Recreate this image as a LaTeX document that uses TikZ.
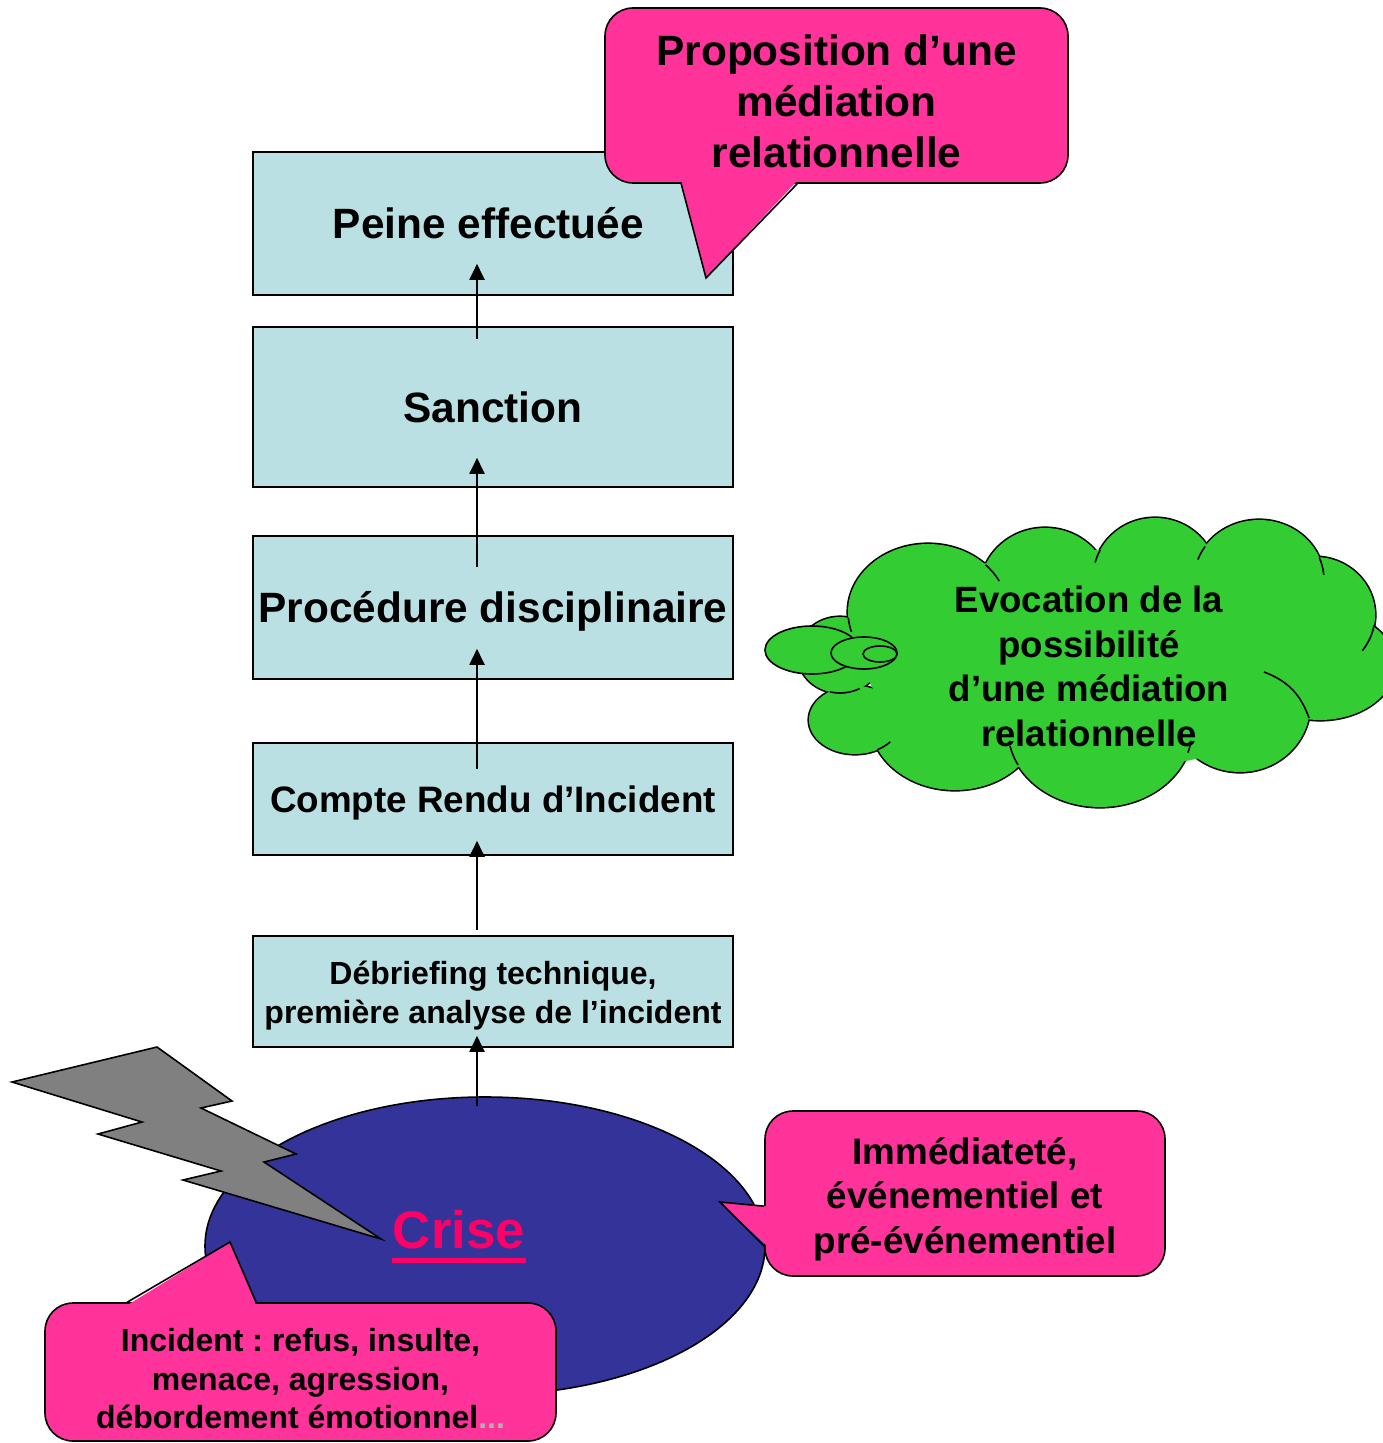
\documentclass[tikz,border=0pt]{standalone}
\usepackage{fontspec}
\setmainfont{Liberation Sans}
\usepackage{xcolor}
\usetikzlibrary{calc}
\usetikzlibrary{arrows.meta}
\usetikzlibrary{shapes.geometric}

\definecolor{boxblue}{HTML}{BBE0E3}
\definecolor{bubblepink}{HTML}{FF3399}
\definecolor{cloudgreen}{HTML}{33CC33}
\definecolor{crisisblue}{HTML}{333399}
\definecolor{boltgray}{HTML}{808080}
\definecolor{crisepink}{HTML}{FF0066}
\definecolor{dotgray}{HTML}{B0B0B0}

\newcommand\bigtxt{\bfseries\fontsize{21.2}{25.5}\selectfont}
\newcommand\midtxt{\bfseries\fontsize{18.4}{22.2}\selectfont}
\newcommand\smalltxt{\bfseries\fontsize{16}{19.3}\selectfont}
\newcommand\topgap[1]{\rule{0pt}{#1}}
\frenchspacing

\begin{document}
\begin{tikzpicture}[x=.5pt, y=-.5pt, line width=.8pt,
    stage/.style={draw, fill=boxblue, minimum width=240pt, inner sep=0pt, align=center},
    flow/.style={-{Triangle[length=8pt,width=7.5pt]}, line width=1pt},
    bubble/.style={draw, fill=bubblepink, rounded corners=14pt, inner sep=0pt, align=center},
    ]
    \useasboundingbox (0,0) rectangle (1382,1443);

    \node[stage, minimum height=71.5pt, font=\bigtxt] (peine) at (493,223.5) {Peine effectuée\hspace*{4.5pt}};
    \node[stage, minimum height=80pt, font=\bigtxt] (sanction) at (493,407) {Sanction};
    \node[stage, minimum height=71.5pt, font=\bigtxt] (proc) at (493,607.5) {\topgap{19.5pt}Procédure disciplinaire};
    \node[stage, minimum height=56pt, font=\midtxt] (compte) at (493,799) {\topgap{17.4pt}Compte Rendu d’Incident};
    \node[stage, minimum height=55.5pt, font=\smalltxt] (debrief) at (493,991.5) {\topgap{15.7pt}Débriefing technique,\\première analyse de l’incident};

    \node[ellipse, draw, fill=crisisblue, minimum width=280pt, minimum height=149pt, inner sep=0pt] (crise) at (485,1246) {};

    \draw[flow] ($(crise.north)+(-8,10)$) -- ($(debrief.south)+(-16,-12)$);
    \draw[flow] ($(debrief.north)+(-16,-5)$) -- ($(compte.south)+(-16,-15)$);
    \draw[flow] ($(compte.north)+(-16,27)$) -- ($(proc.south)+(-16,-31)$);
    \draw[flow] ($(proc.north)+(-16,32)$) -- ($(sanction.south)+(-16,-30)$);
    \draw[flow] ($(sanction.north)+(-16,13)$) -- ($(peine.south)+(-16,-32)$);

    \draw[fill=boltgray] (12,1082) -- (157,1047) -- (232,1101) -- (201,1108) -- (296,1154) -- (264,1162)
        -- (381,1239) -- (183,1180) -- (221,1171) -- (98,1134) -- (142,1122) -- cycle;
    \node[text=crisepink, inner sep=0pt, font=\bfseries\fontsize{26.4}{30}\selectfont] (crisetxt) at (459,1230) {Crise};
    \draw[crisepink, line width=2.5pt] ($(crisetxt.base west)+(0,12)$) -- ($(crisetxt.base east)+(0,12)$);

    \node[bubble, minimum width=231.5pt, minimum height=87.5pt, font=\bigtxt] (propo) at (836.5,95.5) {\topgap{21.5pt}Proposition d’une\\médiation\\relationnelle};
    \coordinate (propotip) at (706,278);
    \fill[bubblepink] ($(propo.south west)+(77,-3)$) -- (propotip) -- ($(propo.south west)+(193,-3)$) -- cycle;
    \draw ($(propo.south west)+(77,0)$) -- (propotip) -- ($(propo.south west)+(193,0)$);

    \foreach \cx/\cy/\rx/\ry in {928/612/80/68, 1045/590/65/62, 1155/578/62/60, 1259/580/65/60, 1315/615/60/58,
        1320/665/75/55, 1240/705/70/67, 1100/730/92/77, 955/720/85/70, 855/720/46/34, 840/655/42/38}
        \draw[line width=1.6pt] (\cx,\cy) ellipse [x radius=\rx/2 pt, y radius=\ry/2 pt];
    \foreach \cx/\cy/\rx/\ry in {928/612/80/68, 1045/590/65/62, 1155/578/62/60, 1259/580/65/60, 1315/615/60/58,
        1320/665/75/55, 1240/705/70/67, 1100/730/92/77, 955/720/85/70, 855/720/46/34, 840/655/42/38, 1095/660/230/110}
        \fill[cloudgreen] (\cx,\cy) ellipse [x radius=\rx/2 pt, y radius=\ry/2 pt];
    \foreach \cx/\cy/\rx/\ry/\a/\b in {928/612/40/34/44/27, 1155/578/31/30/152/165, 1259/580/32.5/30/146/160,
        1259/580/32.5/30/22/5, 1315/615/30/29/-10/-38, 1100/730/46/38.5/-17/-10, 1100/730/46/38.5/207/192,
        855/720/23/17/-61/-40, 840/655/21/19/-104/-62, 928/612/40/34/185/197}
        \draw (\cx,\cy) ++(\a:\rx pt and \ry pt) arc [start angle=\a, end angle=\b, x radius=\rx pt, y radius=\ry pt];
    \draw (1264,672) to[bend left=25] (1309,718);
    \node[align=center, font=\bfseries\fontsize{18.3}{22.3}\selectfont] (evoc) at (1089,666.5)
        {Evocation de la\\possibilité\\d’une médiation\\relationnelle};
    \draw[fill=cloudgreen] (812,650) ellipse [x radius=23.5pt, y radius=12pt];
    \draw[fill=cloudgreen] (864,653) ellipse [x radius=16.5pt, y radius=8pt];
    \draw[fill=cloudgreen] (880,654) ellipse [x radius=8.5pt, y radius=4pt];

    \node[bubble, minimum width=200pt, minimum height=82.5pt, font=\midtxt] (immed) at (965,1193.5) {\topgap{19.1pt}Immédiateté,\\événementiel et\\pré-événementiel};
    \coordinate (immedtip) at (720,1202);
    \fill[bubblepink] ($(immed.north west)+(3,96)$) -- (immedtip) -- ($(immed.north west)+(3,136)$) -- cycle;
    \draw ($(immed.north west)+(0,96)$) -- (immedtip) -- ($(immed.north west)+(0,136)$);

    \node[bubble, minimum width=255.5pt, minimum height=69pt, font=\smalltxt] (incid) at (300.5,1372) {\topgap{18.2pt}Incident : refus, insulte,\\menace, agression,\\débordement émotionnel\textcolor{dotgray}{...}};
    \coordinate (incidtip) at (230,1242);
    \fill[bubblepink] ($(incid.north west)+(83,3)$) -- (incidtip) -- ($(incid.north west)+(212,3)$) -- cycle;
    \draw ($(incid.north west)+(83,0)$) -- (incidtip) -- ($(incid.north west)+(212,0)$);
\end{tikzpicture}
\end{document}
